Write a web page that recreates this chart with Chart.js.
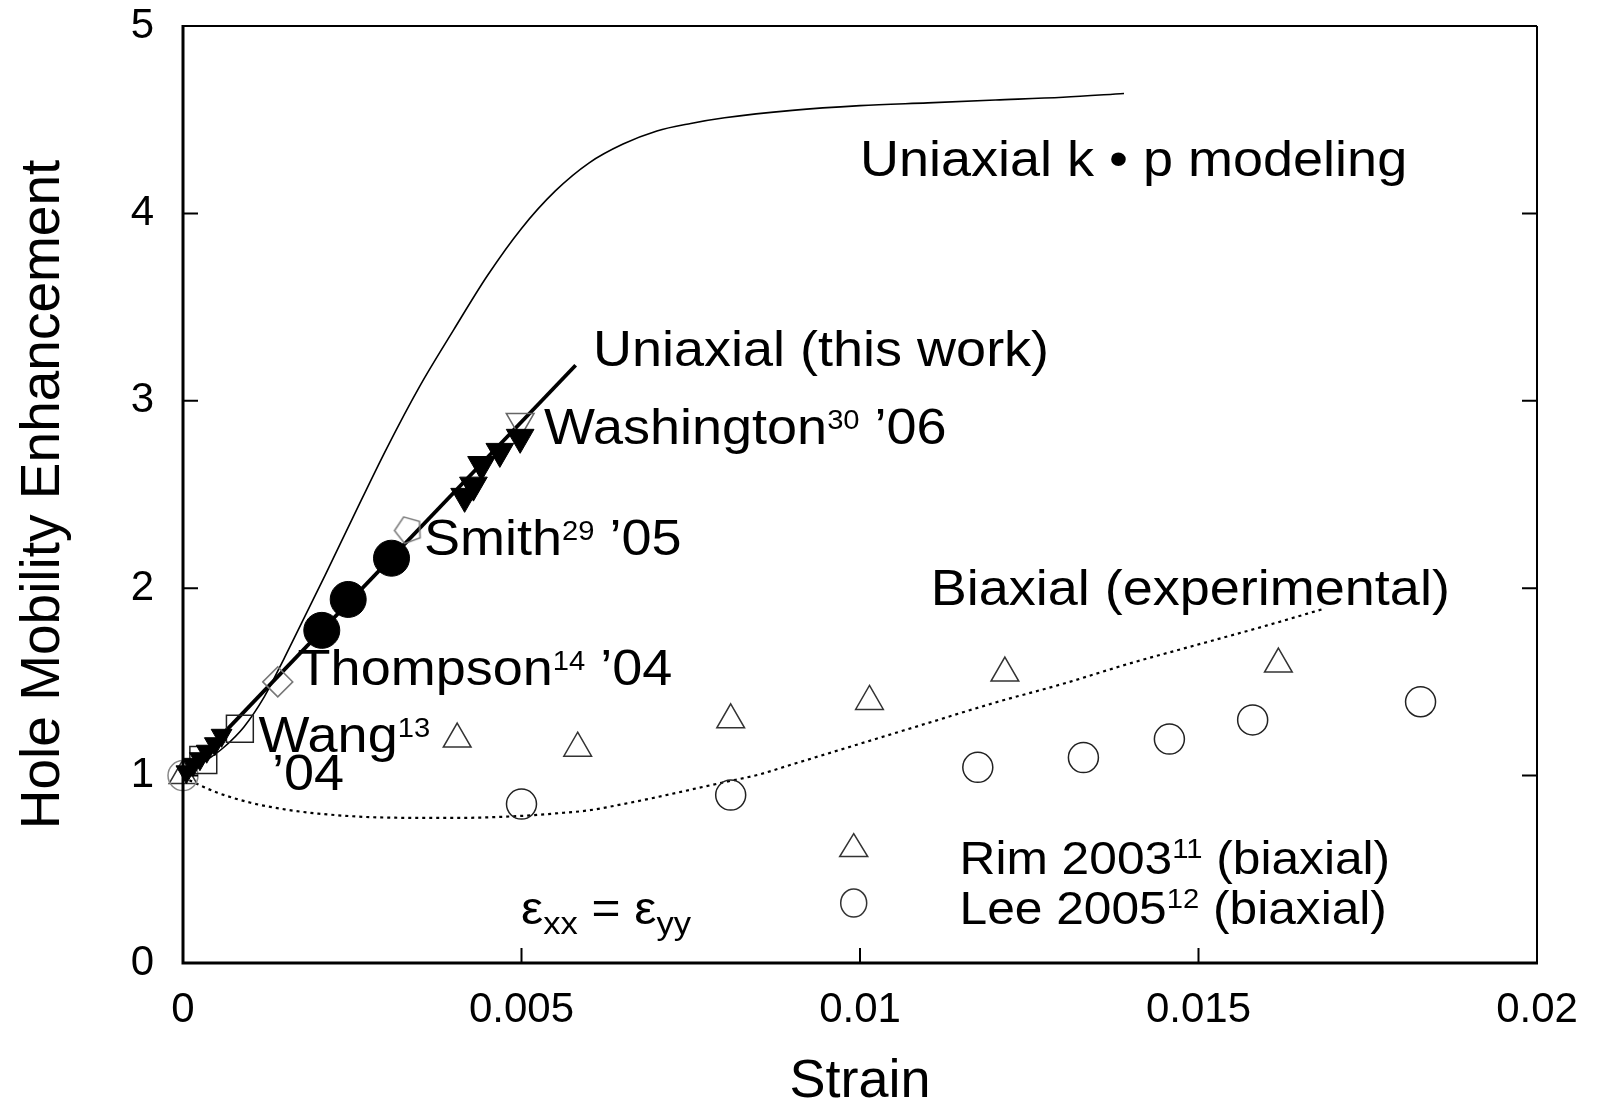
<!DOCTYPE html>
<html>
<head>
<meta charset="utf-8">
<title>Hole Mobility Enhancement vs Strain</title>
<script src="https://cdn.jsdelivr.net/npm/chart.js@4.4.0/dist/chart.umd.min.js"></script>
<style>
  html, body { margin: 0; padding: 0; background: #fff; }
  #wrap { width: 1609px; height: 1109px; position: relative; }
</style>
</head>
<body>
<div id="wrap"><canvas id="chart"></canvas></div>
<script>
// axis ticks
const xTickValues = [0, 0.005, 0.01, 0.015, 0.02];
const xTickLabels = ['0', '0.005', '0.01', '0.015', '0.02'];
const yTickValues = [0, 1, 2, 3, 4, 5];

// Uniaxial k.p modeling (thin line)
const kpX = [0, 0.0003, 0.0006, 0.0009, 0.0012, 0.0015, 0.0018, 0.0021, 0.0025, 0.003, 0.0035, 0.004, 0.0045, 0.005, 0.0055, 0.006, 0.0065, 0.007, 0.0075, 0.008, 0.009, 0.01, 0.011, 0.012, 0.013, 0.0139];
const kpY = [1.0, 1.07, 1.15, 1.26, 1.42, 1.63, 1.85, 2.07, 2.37, 2.74, 3.08, 3.38, 3.67, 3.92, 4.12, 4.27, 4.37, 4.44, 4.48, 4.51, 4.55, 4.575, 4.59, 4.605, 4.62, 4.64];

// Uniaxial (this work) fit line
const fitX = [0, 0.0058];
const fitY = [1.0, 3.19];

// Biaxial (experimental) dotted curve
const bxX = [0, 0.0005, 0.001, 0.0015, 0.002, 0.003, 0.004, 0.005, 0.0055, 0.006, 0.0065, 0.007, 0.0075, 0.008, 0.0085, 0.009, 0.0095, 0.01, 0.011, 0.012, 0.013, 0.014, 0.015, 0.016, 0.01685];
const bxY = [0.99, 0.91, 0.855, 0.82, 0.797, 0.776, 0.774, 0.785, 0.798, 0.815, 0.848, 0.885, 0.925, 0.965, 1.005, 1.06, 1.115, 1.17, 1.28, 1.39, 1.49, 1.6, 1.7, 1.8, 1.89];

// measured points
const leeX = [0, 0.005, 0.00809, 0.01174, 0.0133, 0.01457, 0.0158, 0.01828];
const leeY = [1.0, 0.848, 0.896, 1.044, 1.096, 1.195, 1.297, 1.394];
const rimX = [0, 0.00405, 0.00583, 0.00809, 0.01014, 0.01214, 0.01618];
const rimY = [1.0, 1.195, 1.146, 1.298, 1.396, 1.547, 1.595];
const thompsonX = [0.00205, 0.00244, 0.00308];
const thompsonY = [1.775, 1.94, 2.16];
const washX = [0.00005, 0.00015, 0.00025, 0.00035, 0.00047, 0.00057, 0.00416, 0.00429, 0.00441, 0.00468, 0.00498];
const washY = [1.02, 1.06, 1.09, 1.13, 1.17, 1.215, 2.49, 2.55, 2.66, 2.73, 2.805];
const washOpenX = [0.00498];
const washOpenY = [2.89];
const smithX = [0.00333];
const smithY = [2.31];
const diamondX = [0.0014];
const diamondY = [1.5];
const wangX = [0.0003, 0.00084];
const wangY = [1.083, 1.25];

const FONT = "'Liberation Sans', Arial, Helvetica, sans-serif";
const STRETCH = 1.08;

// text notes placed in data coordinates: [text, size, dy]
const notes = [
    { x: 0.0100, y: 4.197, parts: [['Uniaxial k \u2022 p modeling', 50]] },
    { x: 0.006056, y: 3.186, parts: [['Uniaxial (this work)', 50]] },
    { x: 0.005332, y: 2.770, parts: [['Washington', 50], ['30', 27, -15], [' \u201906', 50]] },
    { x: 0.00356, y: 2.177, parts: [['Smith', 50], ['29', 27, -15], [' \u201905', 50]] },
    { x: 0.001693, y: 1.481, parts: [['Thompson', 50], ['14', 27, -15], [' \u201904', 50]] },
    { x: 0.001117, y: 1.126, parts: [['Wang', 50], ['13', 27, -15]] },
    { x: 0.001315, y: 0.923, parts: [['\u201904', 50]] },
    { x: 0.011044, y: 1.910, parts: [['Biaxial (experimental)', 50]] },
    { x: 0.01147, y: 0.475, parts: [['Rim 2003', 46], ['11', 27, -16], [' (biaxial)', 46]] },
    { x: 0.01147, y: 0.21, parts: [['Lee 2005', 46], ['12', 27, -16], [' (biaxial)', 46]] },
    { x: 0.004993, y: 0.21, parts: [['\u03b5', 46], ['xx', 32, 10], [' = ', 46], ['\u03b5', 46], ['yy', 32, 10]] }
];

function toPoints(xs, ys) {
    return xs.map((x, i) => ({ x: x, y: ys[i] }));
}

// open pentagon marker for Smith
function makePentagon(r, color) {
    const c = document.createElement('canvas');
    c.width = c.height = 2 * r + 4;
    const g = c.getContext('2d');
    g.strokeStyle = color;
    g.lineWidth = 1.5;
    g.beginPath();
    for (let k = 0; k < 5; k++) {
        const a = -Math.PI / 2 - 0.35 + k * 2 * Math.PI / 5;
        const px = r + 2 + r * Math.cos(a), py = r + 2 + r * Math.sin(a);
        if (k === 0) g.moveTo(px, py); else g.lineTo(px, py);
    }
    g.closePath();
    g.stroke();
    return c;
}

function drawParts(ctx, x, y, parts) {
    ctx.save();
    ctx.translate(x, y);
    ctx.scale(STRETCH, 1);
    ctx.fillStyle = '#000';
    ctx.textAlign = 'left';
    ctx.textBaseline = 'alphabetic';
    let cx = 0;
    parts.forEach(p => {
        ctx.font = p[1] + 'px ' + FONT;
        ctx.fillText(p[0], cx, p[2] || 0);
        cx += ctx.measureText(p[0]).width;
    });
    ctx.restore();
}

const framePlugin = {
    id: 'frame',
    afterDatasetsDraw(chart) {
        const ctx = chart.ctx;
        const a = chart.chartArea;
        const xs = chart.scales.x, ys = chart.scales.y;
        ctx.save();
        ctx.strokeStyle = '#000';
        ctx.lineCap = 'butt';
        // top and right (thin)
        ctx.lineWidth = 2;
        ctx.beginPath();
        ctx.moveTo(a.left, a.top); ctx.lineTo(a.right, a.top);
        ctx.moveTo(a.right, a.top); ctx.lineTo(a.right, a.bottom);
        ctx.stroke();
        // left and bottom (thick)
        ctx.lineWidth = 3;
        ctx.beginPath();
        ctx.moveTo(a.left, a.top - 1); ctx.lineTo(a.left, a.bottom + 1.5);
        ctx.moveTo(a.left - 1.5, a.bottom); ctx.lineTo(a.right + 1, a.bottom);
        ctx.stroke();
        // inward ticks
        ctx.lineWidth = 2;
        ctx.beginPath();
        yTickValues.slice(1, -1).forEach(v => {
            const py = ys.getPixelForValue(v);
            ctx.moveTo(a.left, py); ctx.lineTo(a.left + 15, py);
            ctx.moveTo(a.right, py); ctx.lineTo(a.right - 15, py);
        });
        xTickValues.slice(1, -1).forEach(v => {
            const px = xs.getPixelForValue(v);
            ctx.moveTo(px, a.bottom); ctx.lineTo(px, a.bottom - 15);
        });
        ctx.stroke();

        // legend markers
        ctx.lineWidth = 1.5;
        ctx.strokeStyle = '#333';
        const lx = xs.getPixelForValue(0.009907);
        const ty = ys.getPixelForValue(0.621);
        ctx.beginPath();
        ctx.moveTo(lx, ty - 13);
        ctx.lineTo(lx + 14, ty + 10);
        ctx.lineTo(lx - 14, ty + 10);
        ctx.closePath();
        ctx.stroke();
        const cy = ys.getPixelForValue(0.32);
        ctx.beginPath();
        ctx.ellipse(lx, cy, 13, 14, 0, 0, Math.PI * 2);
        ctx.stroke();

        notes.forEach(n => {
            drawParts(ctx, xs.getPixelForValue(n.x), ys.getPixelForValue(n.y), n.parts);
        });
        ctx.restore();
    }
};

const leeColors = leeX.map((v, i) => i === 0 ? '#888' : '#222');

new Chart(document.getElementById('chart'), {
    type: 'scatter',
    data: {
        datasets: [
            {
                label: 'Uniaxial k.p modeling',
                data: toPoints(kpX, kpY),
                showLine: true,
                borderColor: '#000',
                borderWidth: 1.6,
                pointRadius: 0,
                cubicInterpolationMode: 'monotone',
                order: 10,
                clip: false
            },
            {
                label: 'Biaxial (experimental)',
                data: toPoints(bxX, bxY),
                showLine: true,
                borderColor: '#000',
                borderWidth: 2.2,
                borderDash: [3, 4],
                pointRadius: 0,
                cubicInterpolationMode: 'monotone',
                order: 10,
                clip: false
            },
            {
                label: 'Uniaxial (this work)',
                data: toPoints(fitX, fitY),
                showLine: true,
                borderColor: '#000',
                borderWidth: 3.8,
                pointRadius: 0,
                order: 9,
                clip: false
            },
            {
                label: 'Lee 2005',
                data: toPoints(leeX, leeY),
                pointStyle: 'circle',
                pointRadius: 15,
                borderColor: leeColors,
                backgroundColor: 'rgba(0,0,0,0)',
                borderWidth: 1.5,
                order: 3,
                clip: false
            },
            {
                label: 'Rim 2003',
                data: toPoints(rimX, rimY),
                pointStyle: 'triangle',
                pointRadius: 16,
                borderColor: '#333',
                backgroundColor: 'rgba(0,0,0,0)',
                borderWidth: 1.5,
                order: 3,
                clip: false
            },
            {
                label: 'Wang 04',
                data: toPoints(wangX, wangY),
                pointStyle: 'rect',
                pointRadius: 19,
                borderColor: '#222',
                backgroundColor: 'rgba(0,0,0,0)',
                borderWidth: 1.5,
                order: 2,
                clip: false
            },
            {
                label: 'diamond',
                data: toPoints(diamondX, diamondY),
                pointStyle: 'rectRot',
                pointRadius: 15,
                borderColor: '#777',
                backgroundColor: 'rgba(0,0,0,0)',
                borderWidth: 1.5,
                order: 2,
                clip: false
            },
            {
                label: 'Smith 05',
                data: toPoints(smithX, smithY),
                pointStyle: makePentagon(14, '#777'),
                pointRadius: 14,
                order: 2,
                clip: false
            },
            {
                label: 'Washington 06 (open)',
                data: toPoints(washOpenX, washOpenY),
                pointStyle: 'triangle',
                rotation: 180,
                pointRadius: 16,
                borderColor: '#666',
                backgroundColor: 'rgba(0,0,0,0)',
                borderWidth: 1.5,
                order: 2,
                clip: false
            },
            {
                label: 'Washington 06',
                data: toPoints(washX, washY),
                pointStyle: 'triangle',
                rotation: 180,
                pointRadius: washX.map((v, i) => i < 6 ? 12 : 16),
                borderColor: '#000',
                backgroundColor: '#000',
                borderWidth: 1,
                order: 1,
                clip: false
            },
            {
                label: 'Thompson 04',
                data: toPoints(thompsonX, thompsonY),
                pointStyle: 'circle',
                pointRadius: 18,
                borderColor: '#000',
                backgroundColor: '#000',
                borderWidth: 1,
                order: 1,
                clip: false
            }
        ]
    },
    options: {
        responsive: true,
        maintainAspectRatio: false,
        animation: false,
        layout: { padding: { top: 0, right: 72, left: 0, bottom: 0 } },
        plugins: {
            legend: { display: false },
            tooltip: { enabled: false }
        },
        scales: {
            x: {
                type: 'linear',
                min: 0,
                max: 0.02,
                afterBuildTicks: s => { s.ticks = xTickValues.map(v => ({ value: v })); },
                afterFit: s => { s.height = 146; s.paddingLeft = 0; s.paddingRight = 0; },
                grid: { display: false, drawTicks: false },
                border: { display: false },
                ticks: {
                    autoSkip: false,
                    maxRotation: 0,
                    padding: 22,
                    color: '#000',
                    font: { family: FONT, size: 42 },
                    callback: (v, i) => xTickLabels[i]
                },
                title: {
                    display: true,
                    text: 'Strain',
                    color: '#000',
                    font: { family: FONT, size: 54, lineHeight: 1 },
                    padding: { top: 0, bottom: 0 }
                }
            },
            y: {
                type: 'linear',
                min: 0,
                max: 5,
                afterBuildTicks: s => { s.ticks = yTickValues.map(v => ({ value: v })); },
                afterFit: s => { s.width = 183; s.paddingTop = 26; s.paddingBottom = 0; },
                grid: { display: false, drawTicks: false },
                border: { display: false },
                ticks: {
                    padding: 29,
                    color: '#000',
                    font: { family: FONT, size: 42 },
                    callback: v => String(v)
                },
                title: {
                    display: true,
                    text: 'Hole Mobility Enhancement',
                    color: '#000',
                    font: { family: FONT, size: 55, lineHeight: 1 },
                    padding: { top: 16, bottom: 0 }
                }
            }
        }
    },
    plugins: [framePlugin]
});
</script>
</body>
</html>
